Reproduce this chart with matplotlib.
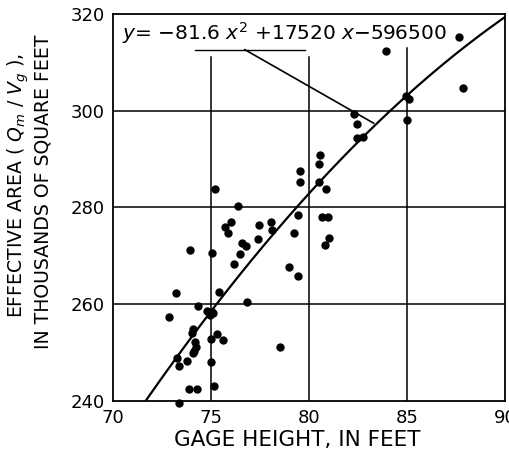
import numpy as np
import matplotlib
matplotlib.use("Agg")
import matplotlib.pyplot as plt

plt.rcParams["font.family"] = ["DejaVu Sans"]
plt.rcParams["mathtext.fontset"] = "dejavusans"

# observed points: gage height (ft) vs effective area (thousand sq ft)
gageHeight = [87.65, 83.93, 87.86, 85.1, 84.95, 85.0, 82.3, 82.45, 82.45, 82.76,
              80.56, 80.5, 79.54, 79.54, 80.5, 80.87, 75.2, 76.38, 79.44, 80.66,
              80.97, 76.0, 75.7, 75.87, 77.45, 78.06, 78.1, 79.23, 81.0, 80.8,
              77.4, 76.6, 76.8, 73.93, 75.05, 76.5, 76.17, 78.98, 79.44, 73.2,
              75.4, 74.34, 76.84, 72.86, 74.8, 75.05, 75.1, 74.95, 74.1, 74.03,
              75.3, 75.6, 75.0, 74.2, 74.23, 74.13, 74.08, 73.27, 73.8, 73.37,
              75.0, 78.52, 73.88, 74.29, 75.15, 73.37]
effArea = [315.3, 312.4, 304.7, 302.4, 303.0, 298.1, 299.2, 297.3, 294.4, 294.6,
           290.9, 288.9, 287.6, 285.2, 285.2, 283.7, 283.9, 280.2, 278.4, 278.1,
           278.1, 276.9, 275.9, 274.8, 276.3, 276.9, 275.3, 274.8, 273.6, 272.2,
           273.4, 272.6, 272.0, 271.1, 270.5, 270.3, 268.2, 267.6, 265.8, 262.3,
           262.5, 259.6, 260.4, 257.3, 258.6, 258.4, 258.1, 257.7, 254.8, 254.0,
           253.8, 252.6, 252.8, 252.2, 251.2, 250.3, 249.9, 248.9, 248.2, 247.2,
           248.0, 251.1, 242.5, 242.5, 243.1, 239.6]

# fitted curve, coefficients as printed on the chart (sq ft)
fitCoeffs = [-81.6, 17520, -596500]
fitRange = [71.7, 90.0]

xTicks = [70, 75, 80, 85, 90]
yTicks = [240, 260, 280, 300, 320]

fig = plt.figure(figsize=(5.09, 4.55), dpi=100)
ax = fig.add_axes([0.222, 0.119, 0.770, 0.8505])
ax.set_xlim(70, 90)
ax.set_ylim(240, 320)

# grid, vertical lines stop below the equation
for gx, top in [(75, 311.1), (80, 311.1), (85, 313.0)]:
    ax.plot([gx, gx], [240, top], color="black", linewidth=1.1, zorder=1)
for gy in [260, 280, 300]:
    ax.axhline(gy, color="black", linewidth=1.1, zorder=1)

xs = np.linspace(fitRange[0], fitRange[1], 200)
ys = np.polyval(fitCoeffs, xs) / 1000.0
ax.plot(xs, ys, color="black", linewidth=1.6, zorder=2)

ax.plot(gageHeight, effArea, "o", color="black", markersize=5, zorder=3, clip_on=False)

# equation and leader line
ax.text(70.45, 316.0, "$y$= \u221281.6 $x^2$ +17520 $x$\u2212596500", fontsize=14.5,
        va="center", ha="left")
ax.plot([74.2, 79.8], [312.6, 312.6], color="black", linewidth=1.0)
ax.plot([76.73, 83.3], [312.6, 297.4], color="black", linewidth=1.2)

ax.set_xticks(xTicks)
ax.set_yticks(yTicks)
ax.tick_params(length=0, labelsize=13, pad=6)
for s in ax.spines.values():
    s.set_linewidth(1.3)

fig.text(0.584, 0.033, "GAGE HEIGHT, IN FEET", fontsize=15.5, ha="center", va="center")
fig.text(0.036, 0.593, r"EFFECTIVE AREA ( $Q_m$ / $V_g$ ),", fontsize=13.6, rotation=90,
         ha="center", va="center")
fig.text(0.084, 0.578, "IN THOUSANDS OF SQUARE FEET", fontsize=13.6, rotation=90,
         ha="center", va="center")

fig.savefig("out.png", dpi=100)
